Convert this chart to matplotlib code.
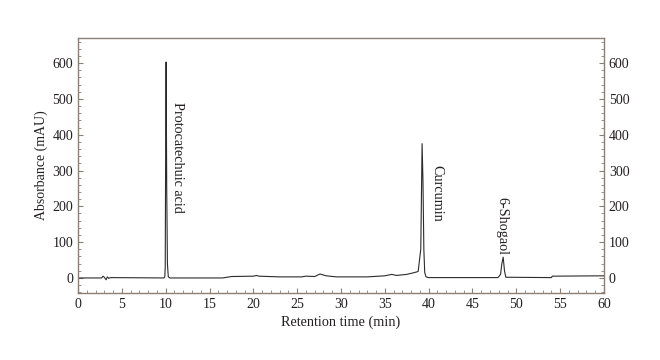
import matplotlib
matplotlib.use("Agg")
import matplotlib.pyplot as plt
from matplotlib.ticker import MultipleLocator

plt.rcParams['font.family'] = ['Liberation Serif', 'DejaVu Serif']

# chromatogram trace (time in min, absorbance in mAU)
tiempo = [0, 2.7, 2.85, 3.0, 3.2, 3.35, 3.5, 3.7, 9.8, 9.9, 9.95, 10.0, 10.05, 10.12,
          10.2, 10.3, 10.5, 16.5, 17.5, 20.0, 20.4, 20.6, 23.0, 25.5, 26.0, 27.0, 27.6,
          28.3, 29.5, 33.0, 35.0, 35.8, 36.3, 37.5, 38.2, 38.8, 39.1, 39.25, 39.35,
          39.45, 39.55, 39.7, 40.0, 47.9, 48.2, 48.35, 48.5, 48.65, 48.8, 54.0, 54.1, 60]
absorb = [0, 0, 5, 2, -5, 3, -1, 1, 0, 3, 30, 360, 603, 250,
          40, 3, 0, 0, 4, 5, 7, 5, 3, 3, 5, 4, 11,
          6, 3, 3, 6, 10, 7, 10, 14, 18, 80, 375, 270,
          80, 15, 3, 1, 1, 10, 40, 58, 20, 2, 1, 5, 6]

etiquetas = ['Protocatechuic acid', 'Curcumin', '6-Shogaol']
pos_etiq = [(11.4, 490), (40.9, 316), (48.3, 226)]

cor_texto = '#231f20'
cor_eixo = '#8a8078'

fig = plt.figure(figsize=(6.6, 3.6), dpi=100)
ax = fig.add_axes([78 / 660, 1 - 293 / 360, (604 - 78) / 660, (293 - 38) / 360])
ax.plot(tiempo, absorb, color='#2b2b2b', lw=0.8)

ax.set_xlim(0, 60)
ax.set_ylim(-42, 670)
ax.xaxis.set_major_locator(MultipleLocator(5))
ax.xaxis.set_minor_locator(MultipleLocator(1))
ax.yaxis.set_major_locator(MultipleLocator(100))
ax.yaxis.set_minor_locator(MultipleLocator(20))
ax.tick_params(which='both', direction='in', colors=cor_eixo, labelcolor=cor_texto,
               labelsize=10, left=True, right=True, labelright=True)
ax.tick_params(which='major', length=3.5)
ax.tick_params(which='minor', length=2)
for s in ax.spines.values():
    s.set_color(cor_eixo)
    s.set_linewidth(1.0)

ax.set_xlabel('Retention time (min)', fontsize=10.3, color=cor_texto, labelpad=3)
ax.set_ylabel('Absorbance (mAU)', fontsize=10, color=cor_texto, labelpad=3)

for txt, (x, y) in zip(etiquetas, pos_etiq):
    ax.text(x, y, txt, rotation=270, ha='center', va='top', fontsize=10.2, color=cor_texto)

fig.savefig('out.png', dpi=100)
